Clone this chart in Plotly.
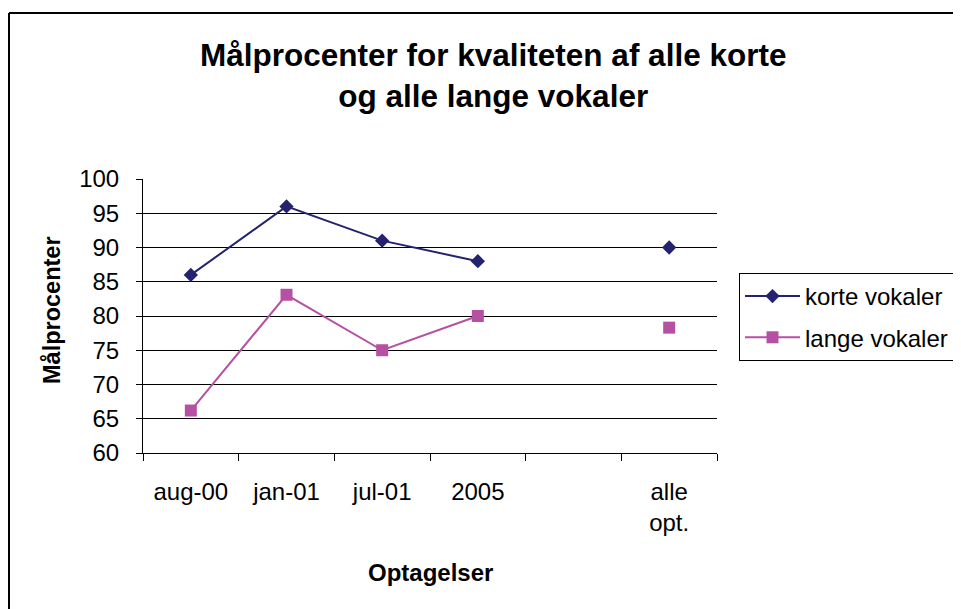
import plotly.graph_objects as go

categories = ["aug-00", "jan-01", "jul-01", "2005", " ", "alle<br>opt."]
korte_vokaler = [86, 96, 91, 88, None, 90]
lange_vokaler = [66.2, 83.1, 75, 80, None, 78.3]
y_ticks = [60, 65, 70, 75, 80, 85, 90, 95, 100]

OFF = 8  # page offset of the figure inside the browser window
W, H = 961, 609
L, R, T, B = 143 - OFF, 717 - OFF, 179 - OFF, 453 - OFF  # plot area in figure px

def px(x):
    return (x - OFF - L) / (R - L)

def py(y):
    return (B - (y - OFF)) / (B - T)

FONT = "Liberation Sans, Arial, sans-serif"
NAVY = "#23236F"
PINK = "#B550A2"

fig = go.Figure()
fig.add_trace(go.Scatter(
    x=categories, y=korte_vokaler, name="korte vokaler", mode="lines+markers",
    line=dict(color=NAVY, width=2),
    marker=dict(symbol="diamond", size=11, color=NAVY),
    connectgaps=False, legendgroup="a",
))
fig.add_trace(go.Scatter(
    x=categories, y=lange_vokaler, name="lange vokaler", mode="lines+markers",
    line=dict(color=PINK, width=2),
    marker=dict(symbol="square", size=12, color=PINK),
    connectgaps=False, legendgroup="b",
))

fig.update_layout(
    width=W, height=H,
    margin=dict(l=L, r=W - R, t=T, b=H - B, pad=0),
    paper_bgcolor="white", plot_bgcolor="white",
    font=dict(family=FONT, size=24, color="black"),
    showlegend=True,
    legend=dict(
        x=px(739), y=py(273), xanchor="left", yanchor="top",
        bordercolor="black", borderwidth=1, bgcolor="white",
        font=dict(size=24), tracegroupgap=7, traceorder="grouped",
        itemwidth=55,
    ),
    xaxis=dict(
        type="category", categoryorder="array", categoryarray=categories,
        range=[-0.5, 5.5], tickson="boundaries", ticks="outside", ticklen=7,
        tickcolor="black", showline=True, linecolor="black", linewidth=1,
        showgrid=False, zeroline=False, ticklabelstandoff=17,
        tickfont=dict(size=24),
    ),
    yaxis=dict(
        range=[60, 100], tickvals=y_ticks, ticks="outside", ticklen=6,
        tickcolor="black", showline=True, linecolor="black", linewidth=1,
        showgrid=True, gridcolor="black", gridwidth=1, zeroline=False,
        ticklabelstandoff=12, tickfont=dict(size=24),
    ),
    annotations=[
        dict(text="<b>Målprocenter for kvaliteten af alle korte<br>og alle lange vokaler</b>",
             x=px(493), y=py(76), xref="paper", yref="paper", showarrow=False,
             xanchor="center", yanchor="middle", font=dict(size=31.5, family=FONT)),
        dict(text="<b>Målprocenter</b>", textangle=-90,
             x=px(52), y=py(310), xref="paper", yref="paper", showarrow=False,
             xanchor="center", yanchor="middle", font=dict(size=23.5, family=FONT)),
        dict(text="<b>Optagelser</b>",
             x=px(430), y=py(572), xref="paper", yref="paper", showarrow=False,
             xanchor="center", yanchor="middle", font=dict(size=24, family=FONT)),
    ],
    shapes=[
        dict(type="line", xref="paper", yref="paper",
             x0=px(9), x1=px(1000), y0=py(13), y1=py(13),
             line=dict(color="black", width=2), layer="below"),
        dict(type="line", xref="paper", yref="paper",
             x0=px(9), x1=px(9), y0=py(13), y1=py(650),
             line=dict(color="black", width=2), layer="below"),
    ],
)

fig.write_html("out.html")
